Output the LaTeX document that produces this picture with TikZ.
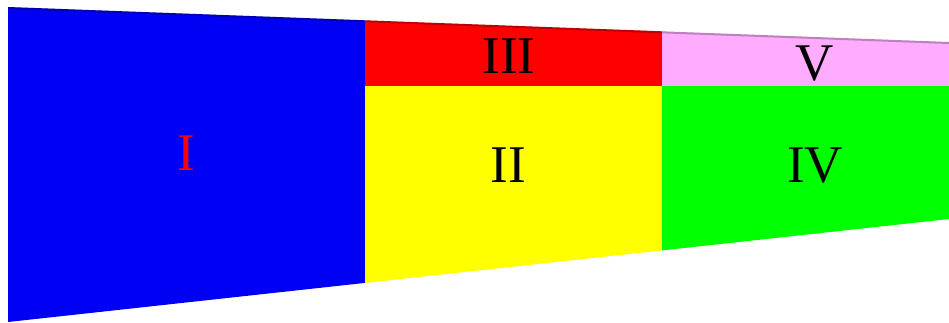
\documentclass[tikz,border=0pt]{standalone}
\usepackage{fontspec}
\setmainfont{Liberation Serif}
\usetikzlibrary{calc}
\definecolor{pblue}{RGB}{0,0,245}
\definecolor{pred}{RGB}{255,0,0}
\definecolor{ppink}{RGB}{255,172,255}
\definecolor{pyellow}{RGB}{255,255,0}
\definecolor{pgreen}{RGB}{0,255,0}

\begin{document}
\begin{tikzpicture}[x=1pt, y=-1pt]
    \useasboundingbox (0,0) rectangle (949,322);

    % Corners of the strip
    \coordinate (tl) at (8,7);
    \coordinate (bl) at (8,322);
    \coordinate (t1) at (365,20.3);
    \coordinate (b1) at (365,282.9);
    \coordinate (t2) at (662,31.3);
    \coordinate (b2) at (662,250.4);
    \coordinate (tr) at (949,42);
    \coordinate (br) at (949,219);
    \coordinate (m1) at (365,86);
    \coordinate (m2) at (662,86);
    \coordinate (mr) at (949,86);

    % Panels
    \fill[pblue] (tl) -- (t1) -- (b1) -- (bl) -- cycle;
    \fill[pred] (t1) -- (t2) -- (m2) -- (m1) -- cycle;
    \fill[ppink] (t2) -- (tr) -- (mr) -- (m2) -- cycle;
    \fill[pyellow] (m1) -- (m2) -- (b2) -- (b1) -- cycle;
    \fill[pgreen] (m2) -- (mr) -- (br) -- (b2) -- cycle;

    % Dark rim along the top edge
    \draw[black, opacity=0.25, line width=2pt] ($(tl)+(0,1)$) -- ($(tr)+(0,1)$);

    % Labels
    \node[text=red, font=\fontsize{53}{53}\selectfont] (lI) at (186,153) {I};
    \foreach \name/\x/\y/\label in {lII/508/165.5/II, lIII/509/56/III, lIV/815/165.5/IV, lV/815/64/V} {
        \node[font=\fontsize{53}{53}\selectfont] (\name) at (\x,\y) {\label};
    }
\end{tikzpicture}
\end{document}
